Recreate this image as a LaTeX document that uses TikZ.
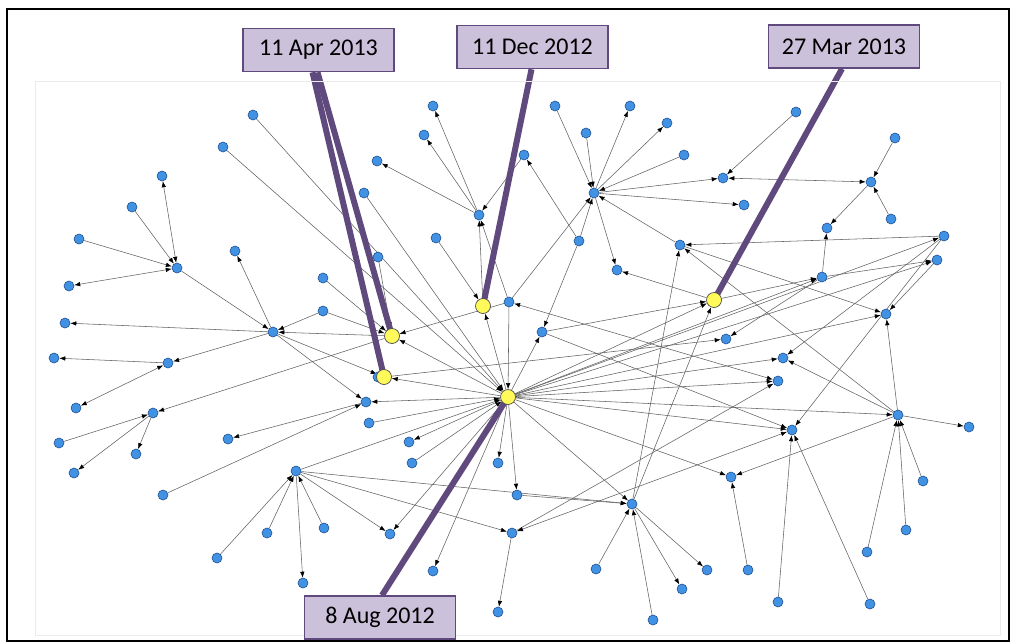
\documentclass[tikz,border=0pt]{standalone}
\usepackage{fontspec}
\setmainfont{Carlito}
\usetikzlibrary{arrows.meta}
\pgfdeclarelayer{bg}
\pgfdeclarelayer{mid}
\pgfsetlayers{bg,mid,main}
\definecolor{nodeblue}{RGB}{66,146,228}
\definecolor{nodeedge}{RGB}{30,80,150}
\definecolor{hiyellow}{RGB}{255,250,90}
\definecolor{leadcol}{RGB}{96,74,125}
\definecolor{boxfill}{RGB}{204,193,218}
\begin{document}
\begin{tikzpicture}[x=1pt,y=-1pt,
  bn/.style={circle,fill=nodeblue,draw=nodeedge,line width=0.6pt,inner sep=0pt,minimum size=10pt},
  yn/.style={circle,fill=hiyellow,draw=black!70,line width=0.7pt,inner sep=0pt,minimum size=15pt},
  ed/.style={draw=black!62,line width=0.55pt,-{Latex[length=6pt,width=4.5pt,color=black]}},
  eb/.style={draw=black!62,line width=0.55pt,{Latex[length=6pt,width=4.5pt,color=black]}-{Latex[length=6pt,width=4.5pt,color=black]}},
  lbl/.style={draw=leadcol,line width=1.5pt,fill=boxfill,minimum width=151pt,minimum height=43pt,inner sep=0pt,font=\fontsize{24}{26}\selectfont},
  ld/.style={draw=leadcol,line width=6pt}]
\useasboundingbox (0,0) rectangle (1014,643);
\draw[black!8,line width=1pt] (35,81) rectangle (1000,635);
\draw[line width=2pt] (7,9) rectangle (1009,641);
% blue nodes
\node[bn] (A1) at (253,115) {};
\node[bn] (A2) at (223,147) {};
\node[bn] (A3) at (162,176) {};
\node[bn] (A4) at (132,207) {};
\node[bn] (A5) at (79,239) {};
\node[bn] (A6) at (177,268) {};
\node[bn] (A7) at (69,286) {};
\node[bn] (A8) at (235,251) {};
\node[bn] (A9) at (65,323) {};
\node[bn] (A10) at (273,332) {};
\node[bn] (A11) at (323,278) {};
\node[bn] (A12) at (323,311) {};
\node[bn] (A13) at (54,358) {};
\node[bn] (B1) at (168,363) {};
\node[bn] (B2) at (76,408) {};
\node[bn] (B3) at (153,413) {};
\node[bn] (B4) at (59,443) {};
\node[bn] (B5) at (74,473) {};
\node[bn] (B6) at (136,454) {};
\node[bn] (B7) at (228,439) {};
\node[bn] (B8) at (163,495) {};
\node[bn] (C1) at (366,402) {};
\node[bn] (C2) at (369,423) {};
\node[bn] (C3) at (409,442) {};
\node[bn] (C4) at (412,463) {};
\node[bn] (D1) at (296,471) {};
\node[bn] (F1) at (217,558) {};
\node[bn] (F2) at (267,533) {};
\node[bn] (F3) at (324,528) {};
\node[bn] (F4) at (303,583) {};
\node[bn] (E1) at (512,533) {};
\node[bn] (E2) at (498,463) {};
\node[bn] (E3) at (517,495) {};
\node[bn] (E4) at (390,534) {};
\node[bn] (E5) at (433,571) {};
\node[bn] (E6) at (596,569) {};
\node[bn] (E7) at (498,612) {};
\node[bn] (E8) at (653,620) {};
\node[bn] (D2) at (632,504) {};
\node[bn] (N1) at (433,106) {};
\node[bn] (N2) at (424,135) {};
\node[bn] (N3) at (377,161) {};
\node[bn] (N4) at (364,193) {};
\node[bn] (N5) at (524,155) {};
\node[bn] (N6) at (555,106) {};
\node[bn] (N7) at (586,133) {};
\node[bn] (N8) at (630,106) {};
\node[bn] (N9) at (667,123) {};
\node[bn] (N10) at (479,215) {};
\node[bn] (N11) at (436,238) {};
\node[bn] (N12) at (378,257) {};
\node[bn] (N13) at (579,241) {};
\node[bn] (N14) at (617,270) {};
\node[bn] (N15) at (509,302) {};
\node[bn] (N16) at (542,332) {};
\node[bn] (H2) at (594,193) {};
\node[bn] (N17) at (684,155) {};
\node[bn] (R1) at (723,178) {};
\node[bn] (R2) at (744,205) {};
\node[bn] (H3) at (680,245) {};
\node[bn] (N18) at (796,112) {};
\node[bn] (R5) at (871,182) {};
\node[bn] (N19) at (895,138) {};
\node[bn] (N20) at (891,219) {};
\node[bn] (N21) at (827,228) {};
\node[bn] (N22) at (822,277) {};
\node[bn] (N23) at (944,236) {};
\node[bn] (N24) at (937,260) {};
\node[bn] (R6) at (886,314) {};
\node[bn] (R9) at (726,339) {};
\node[bn] (R8) at (783,358) {};
\node[bn] (R3) at (778,381) {};
\node[bn] (H4) at (898,415) {};
\node[bn] (N26) at (969,427) {};
\node[bn] (R7) at (792,430) {};
\node[bn] (R10) at (731,477) {};
\node[bn] (N27) at (923,481) {};
\node[bn] (N28) at (906,530) {};
\node[bn] (N29) at (867,552) {};
\node[bn] (S2) at (748,570) {};
\node[bn] (S1) at (707,570) {};
\node[bn] (N25) at (682,589) {};
\node[bn] (N30) at (778,602) {};
\node[bn] (N31) at (870,604) {};
\node[bn] (Y2b) at (378,377) {};
% yellow nodes
\node[yn] (hub) at (508,397) {};
\node[yn] (Y1) at (392,336) {};
\node[yn] (Y2) at (384,377) {};
\node[yn] (Y3) at (483,306) {};
\node[yn] (Y4) at (714,300) {};
% labels
\node[lbl] (L1) at (318.5,50) {11 Apr 2013};
\node[lbl] (L2) at (532.5,47) {11 Dec 2012};
\node[lbl] (L3) at (844,46.5) {27 Mar 2013};
\node[lbl] (L4) at (380,617.5) {8 Aug 2012};
\begin{pgfonlayer}{mid}
\draw[ld] ([xshift=-6pt]L1.south) -- (Y2.center);
\draw[ld] ([xshift=-1pt]L1.south) -- (Y1.center);
\draw[ld] ([xshift=-1pt]L2.south) -- (Y3.center);
\draw[ld] ([xshift=-2pt]L3.south) -- (Y4.center);
\draw[ld] ([xshift=2pt]L4.north) -- (hub.center);
\end{pgfonlayer}
\begin{pgfonlayer}{bg}
% left cluster
\draw[eb] (A3) -- (A6);
\draw[ed] (A4) -- (A6);
\draw[ed] (A5) -- (A6);
\draw[eb] (A6) -- (A7);
\draw[ed] (A6) -- (A10);
\draw[ed] (A10) -- (A8);
\draw[ed] (A10) -- (A9);
\draw[ed] (A12) -- (A10);
\draw[ed] (A12) -- (Y1);
\draw[ed] (A11) -- (Y1);
\draw[ed] (Y1) -- (A10);
\draw[ed] (A10) -- (B1);
\draw[ed] (A10) -- (Y2);
\draw[ed] (A10) -- (C1);
\draw[ed] (B1) -- (A13);
\draw[eb] (B1) -- (B2);
\draw[ed] (Y1) -- (B3);
\draw[ed] (B4) -- (B3);
\draw[ed] (B3) -- (B5);
\draw[ed] (B3) -- (B6);
\draw[ed] (C1) -- (B7);
\draw[ed] (B8) -- (C1);
\draw[ed] (hub) -- (C1);
\draw[ed] (C2) -- (hub);
\draw[ed] (hub) -- (C3);
\draw[ed] (C4) -- (hub);
\draw[ed] (A1) -- (hub);
\draw[ed] (A2) -- (hub);
\draw[ed] (N4) -- (hub);
\draw[ed] (D1) -- (hub);
\draw[ed] (F1) -- (D1);
\draw[ed] (F2) -- (D1);
\draw[ed] (F3) -- (D1);
\draw[ed] (D1) -- (F4);
\draw[ed] (D1) -- (D2);
\draw[ed] (D1) -- (E1);
\draw[ed] (D1) -- (E4);
% top middle
\draw[ed] (N10) -- (N1);
\draw[ed] (N10) -- (N2);
\draw[ed] (N10) -- (N3);
\draw[ed] (N5) -- (N10);
\draw[ed] (Y3) -- (N10);
\draw[ed] (N15) -- (N10);
\draw[ed] (N11) -- (Y3);
\draw[ed] (N12) -- (Y1);
\draw[ed] (hub) -- (Y3);
\draw[ed] (hub) -- (Y1);
\draw[ed] (N15) -- (Y1);
\draw[ed] (N15) -- (hub);
\draw[ed] (hub) -- (N16);
\draw[ed] (N13) -- (N16);
\draw[ed] (N13) -- (N5);
\draw[ed] (N13) -- (H2);
\draw[ed] (N15) -- (H2);
\draw[ed] (H2) -- (N14);
\draw[ed] (N6) -- (H2);
\draw[ed] (N7) -- (H2);
\draw[ed] (H2) -- (N8);
\draw[ed] (H2) -- (N9);
\draw[ed] (N17) -- (H2);
\draw[ed] (H2) -- (R1);
\draw[ed] (H2) -- (R2);
\draw[ed] (H3) -- (H2);
\draw[ed] (N16) -- (Y4);
\draw[ed] (hub) -- (Y4);
\draw[ed] (D2) -- (Y4);
\draw[ed] (Y4) -- (N14);
\draw[ed] (Y4) -- (N22);
\draw[ed] (hub) -- (Y2);
\draw[ed] (N16) -- (R7);
% top right
\draw[ed] (N18) -- (R1);
\draw[eb] (R1) -- (R5);
\draw[ed] (N19) -- (R5);
\draw[ed] (N20) -- (R5);
\draw[ed] (R5) -- (N21);
\draw[ed] (N22) -- (N21);
\draw[ed] (N22) -- (N24);
\draw[ed] (N22) -- (R9);
\draw[ed] (N23) -- (H3);
\draw[ed] (N23) -- (R8);
\draw[ed] (N23) -- (R7);
\draw[ed] (N24) -- (R6);
\draw[ed] (H3) -- (R6);
\draw[ed] (H4) -- (H3);
\draw[ed] (D2) -- (H3);
\draw[ed] (hub) -- (N22);
\draw[ed] (hub) -- (N23);
\draw[ed] (hub) -- (N24);
\draw[ed] (Y2) -- (R9);
\draw[ed] (hub) -- (R6);
\draw[ed] (hub) -- (R8);
\draw[ed] (H4) -- (R8);
\draw[ed] (hub) -- (R3);
\draw[eb] (N15) -- (R3);
\draw[ed] (E1) -- (R3);
\draw[ed] (hub) -- (H4);
\draw[ed] (hub) -- (R7);
\draw[eb] (E1) -- (R7);
\draw[ed] (N30) -- (R7);
\draw[ed] (N31) -- (R7);
\draw[ed] (hub) -- (R10);
\draw[ed] (H4) -- (R10);
\draw[ed] (S2) -- (R10);
\draw[ed] (H4) -- (N26);
\draw[ed] (N27) -- (H4);
\draw[ed] (N28) -- (H4);
\draw[ed] (N29) -- (H4);
\draw[ed] (H4) -- (R6);
% bottom
\draw[ed] (hub) -- (E2);
\draw[ed] (hub) -- (E3);
\draw[ed] (E3) -- (D2);
\draw[ed] (hub) -- (E4);
\draw[ed] (hub) -- (E5);
\draw[ed] (E1) -- (E7);
\draw[ed] (E6) -- (D2);
\draw[ed] (E8) -- (D2);
\draw[ed] (hub) -- (D2);
\draw[ed] (D2) -- (S1);
\draw[ed] (D2) -- (N25);
\end{pgfonlayer}
\end{tikzpicture}
\end{document}
